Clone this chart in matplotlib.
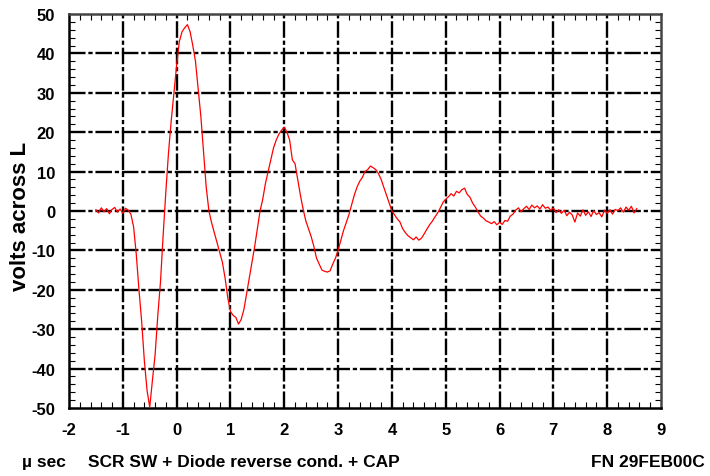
import numpy as np
import matplotlib
matplotlib.use("Agg")
import matplotlib.pyplot as plt

plt.rcParams['font.family'] = ['Liberation Sans', 'DejaVu Sans']
plt.rcParams['font.weight'] = 'bold'
plt.rcParams['axes.unicode_minus'] = False

# waveform, one value every 0.05 usec from -1.5 usec
t_start = -1.5
t_step = 0.05
volts = [
    0.3, -0.5, 0.8, -0.2, 0.6, -0.7, 0.4, 0.9, -0.3, 0.5, -0.6, 0.7, 0.2,        # -1.50 .. -0.90
    -0.8, -4, -11, -20, -28, -38, -45.5, -49.8, -43, -36.5, -26.5, -18, -6,      # -0.85 .. -0.25
    5, 15, 23, 30, 37, 43, 45.5, 46.5, 47.3, 45.5, 42, 38, 31, 24, 15, 6,         # -0.20 .. 0.55
    0, -3, -5.5, -8, -10.5, -13, -17, -22, -25.5, -26.5, -27, -28.7, -27.5,      # 0.60 .. 1.20
    -25, -21, -17, -13, -9, -4.5, 0, 3, 7, 10, 13, 16, 18, 19.5, 20.5, 21.3,     # 1.25 .. 2.00
    20, 18, 13, 12, 8, 4, 0.5, -2.5, -4.5, -6.5, -9, -12, -13.5, -15, -15.3,     # 2.05 .. 2.75
    -15.5, -15.2, -13.5, -12, -10, -7.5, -5, -3, -1, 1.5, 4, 6, 7.5, 8.5, 10,    # 2.80 .. 3.50
    10.5, 11.4, 11, 10.5, 9.5, 8, 6, 4, 2, 0, -1, -2, -2.8, -4.5, -5.5, -6.3,    # 3.55 .. 4.30
    -6.8, -7.3, -6.6, -7.4, -6.9, -5.8, -4.6, -3.5, -2.6, -1.5, -0.5, 0.8, 2.2,  # 4.35 .. 4.95
    3.0, 3.6, 4.4, 3.8, 5.0, 4.6, 5.4, 5.8, 4.2, 3.5, 2.0, 1.0, -0.2, -1.3,      # 5.00 .. 5.65
    -1.8, -2.5, -2.8, -3.2, -2.7, -3.5, -2.9, -3.4, -2.4, -2.6, -1.3, -0.8, 0.2, # 5.70 .. 6.30
    0.8, -0.2, 0.6, 1.2, 0.4, 1.5, 0.8, 1.3, 0.5, 1.6, 0.7, 1.0, 0.2, 0.8,       # 6.35 .. 7.00
    -0.4, 0.3, -0.6, 0.2, -1.2, -0.3, -1.0, -2.8, -0.5, -1.3, 0.3, -1.1, -0.2,   # 7.05 .. 7.65
    -1.4, 0.1, -0.9, -0.4, -1.5, 0.2, -0.6, 0.3, -0.8, 0.4, 0.1, 0.8, -0.3,      # 7.70 .. 8.30
    1.0, 0.2, 1.2, -0.5, 0.6,                                                    # 8.35 .. 8.50
]
t = t_start + t_step * np.arange(len(volts))

x_ticks = [-2, -1, 0, 1, 2, 3, 4, 5, 6, 7, 8, 9]
y_ticks = [-50, -40, -30, -20, -10, 0, 10, 20, 30, 40, 50]

fig = plt.figure(figsize=(7.1, 4.77), dpi=100)
ax = fig.add_axes([69/710, 68/477, 592/710, 394/477])

ax.plot(t, volts, color='red', lw=0.9, zorder=3)

ax.set_xlim(-2, 9)
ax.set_ylim(-50, 50)
ax.set_xticks(x_ticks)
ax.set_yticks(y_ticks)
ax.set_xticks(np.arange(-2, 9.01, 0.2), minor=True)
ax.set_yticks(np.arange(-50, 50.1, 2), minor=True)
ax.tick_params(which='both', direction='in', top=True, right=True)
ax.tick_params(which='major', length=0, labelsize=12, pad=10)
ax.tick_params(which='minor', length=4, width=0.8)

# dash-dot grid like the scope printout
for xv in x_ticks[1:-1]:
    ax.axvline(xv, color='black', lw=1.7, dashes=[7, 1.2, 1.8, 1.2], zorder=2)
for yv in y_ticks[1:-1]:
    ax.axhline(yv, color='black', lw=1.7, dashes=[7, 1.2, 1.8, 1.2], zorder=2)

for s in ax.spines.values():
    s.set_linewidth(1.8)
ax.spines['top'].set_color('#444444')
ax.spines['right'].set_color('#444444')

fig.text(21/710, (477-216)/477, 'volts across L', rotation=90, ha='center', va='center',
         fontsize=16, fontweight='bold')
fig.text(22/710, (477-463)/477, 'µ sec', ha='left', va='center', fontsize=12.5, fontweight='bold')
fig.text(88/710, (477-463)/477, 'SCR SW + Diode reverse cond. + CAP', ha='left', va='center',
         fontsize=12.5, fontweight='bold')
fig.text(705/710, (477-463)/477, 'FN 29FEB00C', ha='right', va='center', fontsize=12.5, fontweight='bold')

fig.savefig('out.png', dpi=100)
